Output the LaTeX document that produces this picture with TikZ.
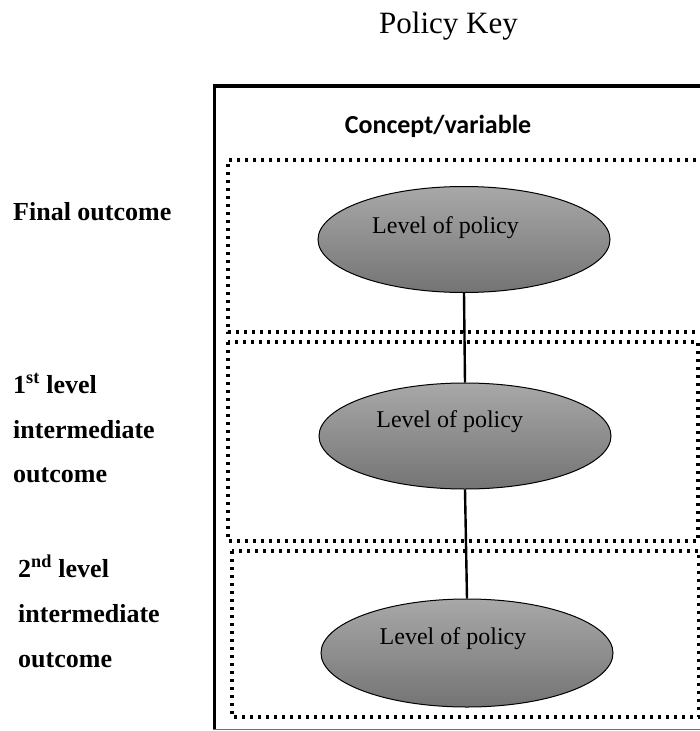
\documentclass[tikz,border=0pt]{standalone}
\usepackage{fontspec}
\setmainfont{Liberation Serif}
\newfontfamily\carlito{Carlito}
\usetikzlibrary{shapes.geometric}
\definecolor{elltop}{RGB}{168,168,168}
\definecolor{ellbot}{RGB}{116,116,116}
\definecolor{edgegray}{RGB}{110,110,110}
\tikzset{
  dotbox/.style={line width=3.4pt, dash pattern=on 3.4pt off 4.6pt},
  outerline/.style={line width=3.4pt},
  policy/.style={ellipse, draw, line width=1pt, minimum width=292pt, minimum height=106pt, inner sep=0pt, top color=elltop, bottom color=ellbot},
  ptext/.style={anchor=base, inner sep=0pt, font=\fontsize{24}{28}\selectfont},
  side/.style={anchor=base west, inner sep=0pt, font=\fontsize{26}{30}\selectfont\bfseries},
  link/.style={line width=2.4pt}
}
\begin{document}
\begin{tikzpicture}[x=1pt,y=-1pt]
\useasboundingbox (0,0) rectangle (700,731);
\clip (0,0) rectangle (700,731);
% title
\node[anchor=base, inner sep=0pt, font=\fontsize{31}{36}\selectfont] (title) at (448.5,33) {Policy Key};
% outer frame
\draw[outerline] (214.5,86) -- (702,86);
\draw[outerline] (214.5,84.3) -- (214.5,730);
\draw[line width=1.6pt, edgegray] (213,729.5) -- (702,729.5);
\node[anchor=base, inner sep=0pt, font=\fontsize{26}{30}\selectfont\carlito\bfseries] (concept) at (438,133) {Concept/variable};
% dotted boxes
\draw[dotbox] (704,160) -- (228,160) -- (228,332) -- (704,332);
\draw[dotbox] (228,342) rectangle (698,541);
\draw[dotbox] (232,551) rectangle (699,717);
% ellipses
\node[policy] (e1) at (464,239.5) {};
\node[policy] (e2) at (465,436) {};
\node[policy, minimum height=108pt] (e3) at (467,653) {};
\node[ptext] (t1) at (445.5,233) {Level of policy};
\node[ptext] (t2) at (449.7,427) {Level of policy};
\node[ptext] (t3) at (453,644) {Level of policy};
% connectors
\draw[link] (e1.south) -- (e2.north);
\draw[link] (e2.south) -- (e3.north);
% side labels
\node[side] (l1) at (13,220) {Final outcome};
\node[side] (l2a) at (13,393) {1\textsuperscript{st} level};
\node[side] (l2b) at (13,438) {intermediate};
\node[side] (l2c) at (13,482) {outcome};
\node[side] (l3a) at (18,577) {2\textsuperscript{nd} level};
\node[side] (l3b) at (18,622) {intermediate};
\node[side] (l3c) at (18,667) {outcome};
\end{tikzpicture}
\end{document}
